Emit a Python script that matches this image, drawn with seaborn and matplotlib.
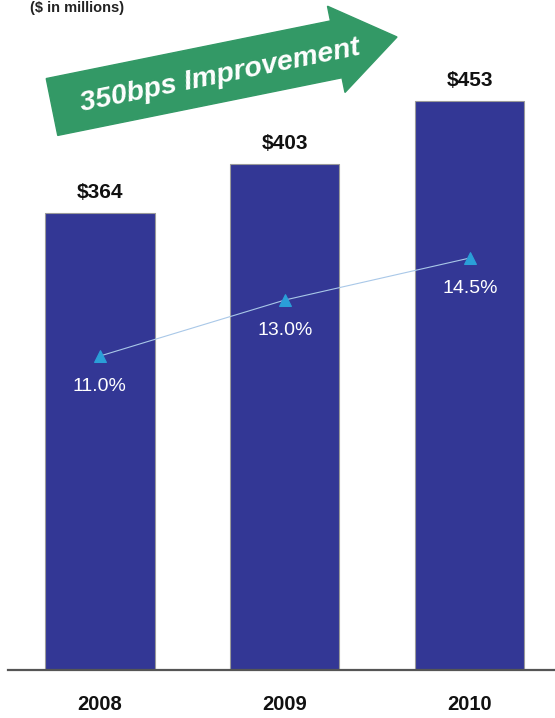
import numpy as np
import pandas as pd
import matplotlib
matplotlib.use("Agg")
import matplotlib.pyplot as plt
import seaborn as sns
from matplotlib.patches import FancyArrow

# Data
years = ["2008", "2009", "2010"]
revenue = [364, 403, 453]
margin_pct = [11.0, 13.0, 14.5]
revenue_labels = ["$364", "$403", "$453"]
margin_labels = ["11.0%", "13.0%", "14.5%"]

df = pd.DataFrame({"Year": years, "Revenue": revenue})

sns.set_style("white")
plt.rcParams["font.family"] = ["Liberation Sans", "DejaVu Sans"]

fig = plt.figure(figsize=(5.55, 7.18), dpi=100)
ax = fig.add_axes([8 / 555, 1 - 670 / 718, 547 / 555, 640 / 718])

sns.barplot(data=df, x="Year", y="Revenue", color="#333795", width=0.59,
            edgecolor="#9a9a9a", linewidth=0.8, saturation=1, ax=ax)
ax.set_ylim(0, 640 / 1.2555)
ax.set_xlim(-0.497, 2.46)

for i, lab in enumerate(revenue_labels):
    ax.annotate(lab, (i, revenue[i]), xytext=(0, 8), textcoords="offset points",
                ha="center", va="bottom", fontsize=15, fontweight="bold", color="#111111")

ax.set_xlabel("")
ax.set_ylabel("")
ax.set_yticks([])
ax.tick_params(axis="x", length=0, pad=18)
for t in ax.get_xticklabels():
    t.set_fontsize(14.5)
    t.set_fontweight("bold")
    t.set_color("#111111")
for s in ["top", "right", "left"]:
    ax.spines[s].set_visible(False)
ax.spines["bottom"].set_color("#555555")
ax.spines["bottom"].set_linewidth(1.6)

# margin line on secondary axis
ax2 = ax.twinx()
sns.lineplot(x=np.arange(len(years)), y=margin_pct, ax=ax2, color="#a9c8e8",
             linewidth=0.8, marker="^", markersize=8, markerfacecolor="#2a9fd8",
             markeredgecolor="#2a9fd8")
ax2.set_ylim(-0.21, 22.64)
ax2.set_yticks([])
for s in ["top", "right", "left", "bottom"]:
    ax2.spines[s].set_visible(False)
for i, lab in enumerate(margin_labels):
    ax2.annotate(lab, (i, margin_pct[i]), xytext=(0, -16), textcoords="offset points",
                 ha="center", va="top", fontsize=14, color="white")

# improvement arrow
H = 718
tail = (52, H - 107)
tip = (397, H - 37)
arrow = FancyArrow(tail[0], tail[1], tip[0] - tail[0], tip[1] - tail[1],
                   width=58, head_width=88, head_length=62,
                   length_includes_head=True, color="#339966", transform=None)
fig.patches.append(arrow)
angle = np.degrees(np.arctan2(tip[1] - tail[1], tip[0] - tail[0]))
fig.text(220 / 555, 1 - 76 / 718, "350bps Improvement", rotation=angle,
         rotation_mode="anchor", ha="center", va="center", fontsize=20.5,
         fontweight="bold", fontstyle="italic", color="white")

fig.text(30 / 555, 1 - 1 / 718, "($ in millions)", ha="left", va="top",
         fontsize=10.5, fontweight="bold", color="#222222")

fig.savefig("out.png", dpi=100)
